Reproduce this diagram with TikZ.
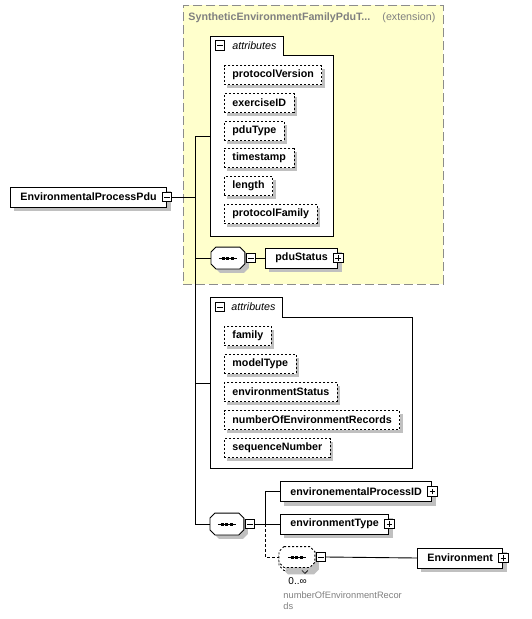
\documentclass[tikz,border=0pt]{standalone}
\usepackage{fontspec}
\setmainfont{Liberation Sans}
\usetikzlibrary{positioning, shadows}
\definecolor{extfill}{RGB}{255, 255, 204}
\definecolor{extborder}{RGB}{140, 140, 140}
\definecolor{shadowgray}{RGB}{192, 192, 192}
\definecolor{notegray}{RGB}{128, 128, 128}
\newcommand{\diafont}{\fontsize{10.7}{12}\selectfont}
% octagon outline of a sequence node
\newcommand{\octpath}[1]{([xshift=5]#1.north west) -- ([xshift=-5]#1.north east) -- ([yshift=-5]#1.north east) -- ([yshift=5]#1.south east) -- ([xshift=-5]#1.south east) -- ([xshift=5]#1.south west) -- ([yshift=5]#1.south west) -- ([yshift=-5]#1.north west) -- cycle}
\newcommand{\seqglyph}[2][]{%
    \fill[shadowgray, transform canvas={shift={(4,4)}}] \octpath{#2};
    \filldraw[fill=white, #1] \octpath{#2};
    \draw[line width=1pt] ([xshift=-9]#2.center) -- ([xshift=9]#2.center);
    \foreach \dx in {-4.6,0,4.6} \fill ([xshift=\dx]#2.center) +(-1.5,-1.5) rectangle +(1.5,1.5);
}

\begin{document}
\begin{tikzpicture}[
    x=1pt, y=-1pt, line width=0.9pt,
    boxshadow/.style={drop shadow={shadow xshift=4pt, shadow yshift=-4pt, fill=shadowgray, opacity=1}},
    element/.style={rectangle, draw, fill=white, boxshadow, minimum height=20, inner xsep=10, inner ysep=0, anchor=west, font=\diafont\bfseries},
    attribute/.style={rectangle, draw, dash pattern=on 2pt off 2pt, fill=white, drop shadow={shadow xshift=3pt, shadow yshift=-3pt, fill=shadowgray, opacity=1}, minimum height=19, inner xsep=8, inner ysep=0, anchor=west, font=\diafont\bfseries},
    attrframe/.style={rectangle, fill=white, anchor=north west, inner sep=0},
    attrtab/.style={rectangle, fill=white, anchor=south west, inner xsep=7, inner ysep=0, align=right, font=\diafont\itshape},
    togglebox/.style={rectangle, draw, fill=white, minimum size=9.5, inner sep=0, line width=0.7pt},
    minusbox/.style={togglebox, path picture={\draw[line width=0.7pt] ([xshift=2]path picture bounding box.west) -- ([xshift=-2]path picture bounding box.east);}},
    plusbox/.style={togglebox, path picture={\draw[line width=0.7pt] ([xshift=2]path picture bounding box.west) -- ([xshift=-2]path picture bounding box.east) ([yshift=2]path picture bounding box.south) -- ([yshift=-2]path picture bounding box.north);}},
    seqsym/.style={rectangle, minimum width=33, minimum height=21, inner sep=0, anchor=west},
    extbox/.style={rectangle, draw=extborder, dash pattern=on 9pt off 4pt, fill=extfill, anchor=north west, inner sep=0},
]
\fill[white] (0,0) rectangle (532,619);
\useasboundingbox (0,0) rectangle (532,619);

% Extension base type
\node[extbox, minimum width=260, minimum height=279] (extension) at (183,5) {};
\node[font=\diafont\bfseries, color=notegray, anchor=west, inner sep=0] (exttitle) at (188,18) {SyntheticEnvironmentFamilyPduT...};
\node[font=\diafont, color=notegray, anchor=west, inner sep=0] (extkind) at (382,18) {(extension)};

% Inherited attributes
\node[attrframe, minimum width=123, minimum height=181] (attrs1) at (210,55) {};
\node[attrtab, minimum width=73, minimum height=18, text width=59] (attrs1tab) at (attrs1.north west) {attributes};
\draw (attrs1tab.north west) -- (attrs1tab.north east) -- (attrs1tab.south east) -- (attrs1.north east) -- (attrs1.south east) -- (attrs1.south west) -- cycle;
\node[minusbox] (attrs1min) at ([xshift=10]attrs1tab.west) {};

\node[attribute] (protocolversion) at (224,75) {protocolVersion};
\node[attribute] (exerciseid) at (224,103) {exerciseID};
\node[attribute] (pdutype) at (224,131) {pduType};
\node[attribute] (timestamp) at (224,158) {timestamp};
\node[attribute] (length) at (224,186) {length};
\node[attribute] (protocolfamily) at (224,214) {protocolFamily};

% Inherited sequence
\node[seqsym] (seq1) at (211,258) {};
\seqglyph{seq1}
\node[minusbox, right=1pt of seq1] (seq1min) {};
\node[element] (pdustatus) at (265,258) {pduStatus};
\node[plusbox] (pdustatusplus) at (pdustatus.east) {};
\draw (seq1min.east) -- (pdustatus.west);

% Root element
\node[element] (envpdu) at (10,197) {EnvironmentalProcessPdu};
\node[minusbox] (envpdumin) at (envpdu.east) {};
\coordinate (spine) at (195,197);
\coordinate (attrs1in) at (210,136);
\coordinate (attrs2in) at (210,383);

% Own attributes
\node[attrframe, minimum width=202, minimum height=151] (attrs2) at (210,317) {};
\node[attrtab, minimum width=72, minimum height=19, text width=58] (attrs2tab) at (attrs2.north west) {attributes};
\draw (attrs2tab.north west) -- (attrs2tab.north east) -- (attrs2tab.south east) -- (attrs2.north east) -- (attrs2.south east) -- (attrs2.south west) -- cycle;
\node[minusbox] (attrs2min) at ([xshift=10]attrs2tab.west) {};

\node[attribute] (family) at (224,336) {family};
\node[attribute] (modeltype) at (224,364) {modelType};
\node[attribute] (environmentstatus) at (224,392) {environmentStatus};
\node[attribute] (numrecords) at (224,420) {numberOfEnvironmentRecords};
\node[attribute] (sequencenumber) at (224,448) {sequenceNumber};

% Own sequence
\node[seqsym] (seq2) at (210,524) {};
\seqglyph{seq2}
\node[minusbox, right=1pt of seq2] (seq2min) {};
\coordinate (branch) at (265,524);
\node[element] (procid) at (280,491.5) {environementalProcessID};
\node[plusbox] (procidplus) at (procid.east) {};
\node[element] (envtype) at (280,524) {environmentType};
\node[plusbox] (envtypeplus) at (envtype.east) {};

% Repeated records
\node[seqsym, minimum width=35, minimum height=20] (seq3back) at (279,560) {};
\seqglyph[dash pattern=on 2pt off 2pt]{seq3back}
\node[seqsym, minimum width=35, minimum height=20] (seq3) at (279,557) {};
\seqglyph[dash pattern=on 2pt off 2pt]{seq3}
\draw[line width=0.6pt] ([xshift=5]seq3back.south) -- ([xshift=8, yshift=-3]seq3back.south) -- ([xshift=11]seq3back.south);
\node[minusbox, right=1pt of seq3] (seq3min) {};
\node[element] (environment) at (417,558) {Environment};
\node[plusbox] (environmentplus) at (environment.east) {};
\node[font=\fontsize{10}{12}\selectfont, anchor=west, inner sep=0] (seq3occurs) at (288,581) {0..∞};
\node[font=\fontsize{9.3}{11}\selectfont, color=notegray, anchor=north west, align=left, inner sep=0] (seq3name) at (283,591) {numberOfEnvironmentRecor\\ds};

% Connectors
\draw (envpdumin.east) -- (spine);
\draw (attrs1in) -- ++(-15,0) |- (seq2.west);
\draw (seq1.west) -- (seq1.west -| spine);
\draw (attrs2in) -- (attrs2in -| spine);
\draw (seq2min.east) -- (envtype.west);
\draw (branch) |- (procid.west);
\draw[dash pattern=on 3pt off 2pt] (branch) |- (seq3.west);
\draw (seq3min.east) -- (environment.west);

\end{tikzpicture}
\end{document}
